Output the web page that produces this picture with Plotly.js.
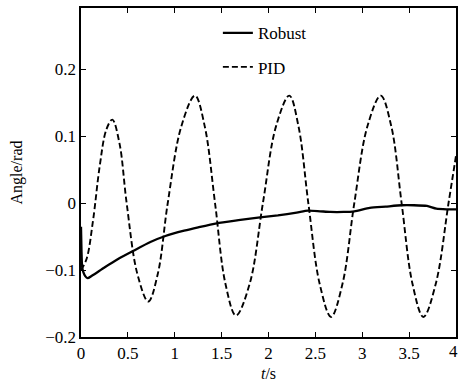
<!DOCTYPE html>
<html>
<head>
<meta charset="utf-8">
<script src="https://cdn.plot.ly/plotly-3.0.1.min.js"></script>
<style>html,body{margin:0;padding:0;background:#fff;}#chart{width:458px;height:386px;}</style>
</head>
<body>
<div id="chart"></div>
<script>
const robustT = [0, 0.005, 0.012, 0.025, 0.045, 0.07, 0.12, 0.25, 0.4, 0.56, 0.74, 0.9, 1.1, 1.25, 1.447, 1.7, 1.91, 2.1, 2.3, 2.42, 2.55, 2.66, 2.8, 2.915, 3.08, 3.25, 3.42, 3.55, 3.69, 3.79, 3.9, 4.0];
const robustY = [-0.035, -0.07, -0.095, -0.103, -0.109, -0.112, -0.108, -0.096, -0.083, -0.071, -0.058, -0.049, -0.041, -0.036, -0.030, -0.025, -0.021, -0.018, -0.014, -0.011, -0.012, -0.013, -0.013, -0.012, -0.007, -0.005, -0.003, -0.003, -0.004, -0.008, -0.009, -0.009];

const pidT = [0, 0.06, 0.13, 0.2, 0.27, 0.334, 0.41, 0.487, 0.60, 0.718, 0.82, 0.925, 1.07, 1.216, 1.32, 1.43, 1.54, 1.653, 1.80, 1.94, 2.08, 2.222, 2.32, 2.425, 2.545, 2.667, 2.79, 2.915, 3.055, 3.197, 3.31, 3.42, 3.535, 3.652, 3.785, 3.92, 4.0];
const pidY = [-0.1, -0.083, -0.024, 0.056, 0.11, 0.125, 0.09, 0, -0.105, -0.147, -0.105, 0, 0.115, 0.161, 0.115, 0, -0.12, -0.168, -0.12, 0, 0.115, 0.161, 0.115, 0, -0.12, -0.170, -0.12, 0, 0.115, 0.161, 0.115, 0, -0.12, -0.170, -0.12, 0, 0.071];

const xTicks = [0, 0.5, 1, 1.5, 2, 2.5, 3, 3.5, 4];
const xTickText = ["0", "0.5", "1", "1.5", "2", "2.5", "3", "3.5", "4"];
const yTicks = [-0.2, -0.1, 0, 0.1, 0.2];
const yTickText = ["\u22120.2", "\u22120.1", "0", "0.1", "0.2"];

const font = {family: "Liberation Serif, Times New Roman, serif", color: "#000"};

const traces = [
  {x: robustT, y: robustY, name: "Robust", mode: "lines", legendgroup: "a",
   line: {color: "#000", width: 2.3, shape: "spline", smoothing: 0.6}},
  {x: pidT, y: pidY, name: "PID", mode: "lines", legendgroup: "b",
   line: {color: "#000", width: 1.9, dash: "6px,3px", shape: "spline", smoothing: 1}}
];

const axisBase = {
  showgrid: false, zeroline: false, showline: true, linecolor: "#000", linewidth: 1.6,
  mirror: "ticks", ticks: "inside", ticklen: 5, tickwidth: 1, tickcolor: "#000",
  tickfont: Object.assign({size: 17}, font)
};

// the last x tick label ("4") sits at the right edge of the page; draw it as an annotation so it stays visible
const lastIdx = xTicks.length - 1;

const layout = {
  width: 458, height: 386,
  margin: {l: 81, r: 2, t: 8, b: 49},
  paper_bgcolor: "#fff", plot_bgcolor: "#fff",
  showlegend: true,
  legend: {x: 0.365, y: 0.978, xanchor: "left", yanchor: "top", bgcolor: "rgba(0,0,0,0)",
           font: Object.assign({size: 17}, font), traceorder: "grouped", tracegroupgap: 9},
  xaxis: Object.assign({}, axisBase, {range: [0, 4], tickvals: xTicks.slice(0, lastIdx),
           ticktext: xTickText.slice(0, lastIdx),
           title: {text: "<i>t</i>/s", font: Object.assign({size: 16}, font), standoff: 6}}),
  yaxis: Object.assign({}, axisBase, {range: [-0.2, 0.292], tickvals: yTicks, ticktext: yTickText,
           title: {text: "Angle/rad", font: Object.assign({size: 16}, font), standoff: 18}}),
  annotations: [{x: xTicks[lastIdx], y: 0, xref: "x", yref: "paper", yanchor: "top", yshift: -3,
                 xshift: -3, text: xTickText[lastIdx], showarrow: false,
                 font: Object.assign({size: 17}, font)}]
};

Plotly.newPlot("chart", traces, layout, {displayModeBar: false, staticPlot: true});
</script>
</body>
</html>
